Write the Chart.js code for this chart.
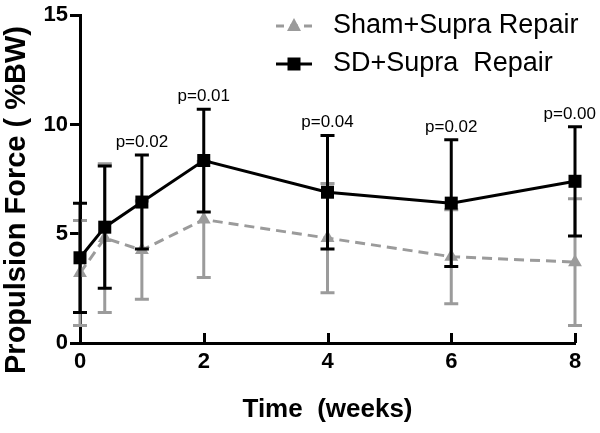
<!DOCTYPE html>
<html><head><meta charset="utf-8">
<script src="https://cdn.jsdelivr.net/npm/chart.js@4"></script>
<style>html,body{margin:0;padding:0;background:#fff;} canvas{display:block;}</style>
</head><body>
<canvas id="c" width="600" height="433"></canvas>
<script>
const weeks = [0, 0.4, 1, 2, 4, 6, 8];
const shamMean = [3.2, 4.8, 4.25, 5.65, 4.8, 3.95, 3.7];
const shamErr = [2.4, 3.4, 2.25, 2.65, 2.5, 2.15, 2.9];
const sdMean = [3.9, 5.3, 6.45, 8.35, 6.9, 6.4, 7.4];
const sdErr = [2.5, 2.8, 2.15, 2.35, 2.6, 2.9, 2.5];
const pLabels = ['', '', 'p=0.02', 'p=0.01', 'p=0.04', 'p=0.02', 'p=0.00'];
const xTicks = [0, 2, 4, 6, 8];
const yTicks = [0, 5, 10, 15];
const seriesNames = ['Sham+Supra Repair', 'SD+Supra  Repair'];
const xTitle = 'Time  (weeks)';
const yTitle = 'Propulsion Force ( %BW)';

const GREY = '#9b9b9b';
const FONT = '"Liberation Sans", Arial, Helvetica, sans-serif';

const errorBars = {
  id: 'errorBars',
  beforeDatasetDraw(chart, args) {
    const ds = chart.data.datasets[args.index];
    const ys = chart.scales.y;
    const ctx = chart.ctx;
    ctx.save();
    ctx.strokeStyle = ds.borderColor;
    ctx.lineWidth = 3;
    ctx.setLineDash([]);
    args.meta.data.forEach((pt, i) => {
      const v = ds.data[i].y, e = ds.errValues[i];
      const yt = ys.getPixelForValue(v + e), yb = ys.getPixelForValue(v - e);
      ctx.beginPath();
      ctx.moveTo(pt.x, yt); ctx.lineTo(pt.x, yb);
      ctx.moveTo(pt.x - 7, yt); ctx.lineTo(pt.x + 7, yt);
      ctx.moveTo(pt.x - 7, yb); ctx.lineTo(pt.x + 7, yb);
      ctx.stroke();
    });
    ctx.restore();
  }
};

const extras = {
  id: 'extras',
  afterDraw(chart) {
    const ctx = chart.ctx;
    const xs = chart.scales.x, ys = chart.scales.y;
    const area = chart.chartArea;
    ctx.save();
    // x tick marks pointing inward
    ctx.strokeStyle = '#000';
    ctx.lineWidth = 3;
    ctx.setLineDash([]);
    xTicks.forEach(v => {
      const px = Math.round(xs.getPixelForValue(v)) + 0.5;
      ctx.beginPath();
      ctx.moveTo(px, area.bottom);
      ctx.lineTo(px, area.bottom - 10);
      ctx.stroke();
    });
    // p-value labels
    ctx.fillStyle = '#000';
    ctx.font = '17px ' + FONT;
    ctx.textAlign = 'center';
    ctx.textBaseline = 'alphabetic';
    pLabels.forEach((t, i) => {
      if (!t) return;
      let px = xs.getPixelForValue(weeks[i]);
      const w = ctx.measureText(t).width;
      px = Math.min(px, chart.width - 4 - w / 2);
      const py = ys.getPixelForValue(sdMean[i] + sdErr[i]) - 8;
      ctx.fillText(t, px, py);
    });
    // y title
    ctx.save();
    ctx.translate(17, 200);
    ctx.rotate(-Math.PI / 2);
    ctx.font = 'bold 29px ' + FONT;
    ctx.textAlign = 'center';
    ctx.textBaseline = 'middle';
    ctx.fillText(yTitle, 0, 0);
    ctx.restore();
    // legend
    const items = [
      {name: seriesNames[0], color: GREY, dash: [8, 6], style: 'triangle', y: 26},
      {name: seriesNames[1], color: '#000', dash: [], style: 'rect', y: 64}
    ];
    items.forEach(it => {
      ctx.strokeStyle = it.color;
      ctx.fillStyle = it.color;
      ctx.lineWidth = 3;
      ctx.setLineDash(it.dash);
      ctx.beginPath();
      ctx.moveTo(276, it.y); ctx.lineTo(312, it.y);
      ctx.stroke();
      ctx.setLineDash([]);
      ctx.beginPath();
      if (it.style === 'rect') {
        ctx.rect(294 - 6.5, it.y - 6.5, 13, 13);
      } else {
        ctx.moveTo(294, it.y - 8);
        ctx.lineTo(301, it.y + 5);
        ctx.lineTo(287, it.y + 5);
        ctx.closePath();
      }
      ctx.fill();
      ctx.fillStyle = '#000';
      ctx.font = '27px ' + FONT;
      ctx.textAlign = 'left';
      ctx.textBaseline = 'middle';
      ctx.fillText(it.name, 333, it.y);
    });
    ctx.restore();
  }
};

new Chart(document.getElementById('c'), {
  type: 'line',
  data: {
    datasets: [
      {
        label: seriesNames[1],
        data: weeks.map((x, i) => ({x, y: sdMean[i]})),
        errValues: sdErr,
        borderColor: '#000',
        backgroundColor: '#000',
        borderWidth: 3,
        pointStyle: 'rect',
        pointRadius: 9.2,
        pointBorderWidth: 0,
        tension: 0,
        clip: false,
        order: 0
      },
      {
        label: seriesNames[0],
        data: weeks.map((x, i) => ({x, y: shamMean[i]})),
        errValues: shamErr,
        borderColor: GREY,
        backgroundColor: GREY,
        borderWidth: 3,
        borderDash: [10, 6],
        pointStyle: 'triangle',
        pointRadius: 8,
        pointBorderWidth: 0,
        tension: 0,
        clip: false,
        order: 1
      }
    ]
  },
  options: {
    responsive: false,
    animation: false,
    events: [],
    layout: {padding: {top: 13, right: 25, left: 0, bottom: 0}},
    plugins: {legend: {display: false}, tooltip: {enabled: false}},
    scales: {
      x: {
        type: 'linear', min: 0, max: 8,
        afterBuildTicks: s => { s.ticks = xTicks.map(v => ({value: v})); },
        afterFit: s => { s.height = 90; },
        ticks: {color: '#000', padding: 6, font: {family: FONT, size: 22, weight: 'bold'}},
        grid: {display: true, drawOnChartArea: false, drawTicks: false},
        border: {display: true, color: '#000', width: 3},
        title: {display: true, text: xTitle, color: '#000', font: {family: FONT, size: 26, weight: 'bold'}, padding: {top: 0, bottom: 8}}
      },
      y: {
        type: 'linear', min: 0, max: 15,
        afterBuildTicks: s => { s.ticks = yTicks.map(v => ({value: v})); },
        afterFit: s => { s.width = 80; },
        ticks: {color: '#000', padding: 2, font: {family: FONT, size: 22, weight: 'bold'}},
        grid: {display: true, drawOnChartArea: false, drawTicks: true, tickLength: 10, tickWidth: 3, tickColor: '#000'},
        border: {display: true, color: '#000', width: 3}
      }
    }
  },
  plugins: [errorBars, extras]
});
</script>
</body></html>
